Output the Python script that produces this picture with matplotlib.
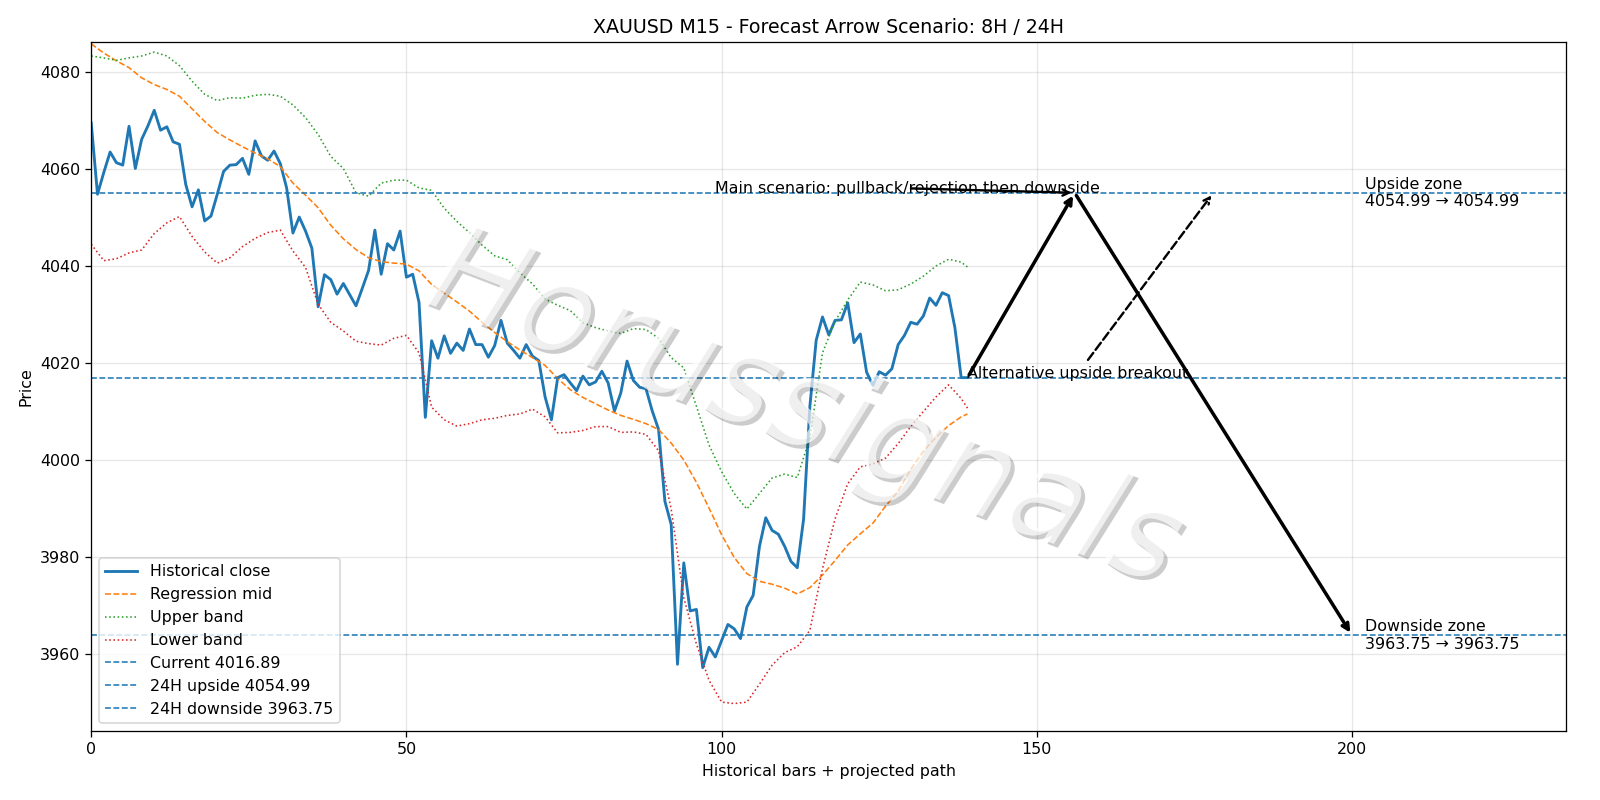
import numpy as np
import matplotlib
matplotlib.use("Agg")
import matplotlib.pyplot as plt
import matplotlib.patheffects as pe

# historical M15 closes, bar 0..139
close = [
    4069.4, 4054.7, 4059.2, 4063.4, 4061.2, 4060.7, 4068.7, 4060.0, 4066.0, 4068.8,
    4072.0, 4067.9, 4068.6, 4065.5, 4065.0, 4056.7, 4052.1, 4055.6, 4049.2, 4050.2,
    4054.7, 4059.4, 4060.7, 4060.8, 4062.1, 4058.8, 4065.7, 4062.6, 4061.7, 4063.6,
    4061.0, 4056.0, 4046.7, 4050.0, 4047.1, 4043.6, 4031.5, 4038.1, 4037.1, 4034.1,
    4036.3, 4034.0, 4031.7, 4035.3, 4039.0, 4047.3, 4038.2, 4044.5, 4043.2, 4047.1,
    4037.6, 4038.2, 4032.4, 4008.7, 4024.5, 4020.9, 4025.5, 4021.9, 4024.0, 4022.5,
    4026.9, 4023.7, 4023.7, 4021.1, 4023.5, 4028.7, 4024.0, 4022.5, 4020.9, 4023.7,
    4021.3, 4020.4, 4012.9, 4008.2, 4016.9, 4017.5, 4015.8, 4014.2, 4017.2, 4015.4,
    4016.0, 4018.2, 4015.8, 4010.0, 4013.7, 4020.3, 4016.3, 4014.9, 4014.6, 4010.0,
    4006.2, 3991.4, 3986.6, 3957.8, 3978.7, 3968.8, 3969.1, 3957.1, 3961.3, 3959.3,
    3962.7, 3966.0, 3965.1, 3963.1, 3969.6, 3972.0, 3982.1, 3988.0, 3985.4, 3984.6,
    3982.1, 3979.0, 3977.7, 3987.7, 4011.0, 4024.6, 4029.4, 4025.7, 4028.7, 4028.8,
    4032.3, 4024.1, 4025.9, 4018.0, 4015.3, 4018.1, 4017.4, 4018.7, 4023.7, 4025.6,
    4028.3, 4027.9, 4029.6, 4033.3, 4031.8, 4034.4, 4033.8, 4027.2, 4016.89, 4016.89,
]

# regression channel, read every second bar (plus the last bar)
band_x = list(range(0, 140, 2)) + [139]
mid = [
    4085.7, 4083.8, 4082.2, 4080.8, 4078.7, 4077.3, 4076.3, 4074.9, 4072.3, 4069.7,
    4067.4, 4065.9, 4064.5, 4063.2, 4062.0, 4060.4, 4057.0, 4054.5, 4051.9, 4048.3,
    4045.5, 4043.3, 4041.6, 4040.8, 4040.5, 4040.3, 4038.9, 4036.1, 4034.3, 4032.5,
    4030.6, 4028.3, 4026.2, 4024.3, 4022.6, 4021.0, 4019.4, 4016.7, 4014.4, 4012.8,
    4011.5, 4010.2, 4009.1, 4008.3, 4007.4, 4006.2, 4003.4, 3999.9, 3995.3, 3990.0,
    3984.5, 3979.8, 3976.5, 3974.9, 3974.3, 3973.5, 3972.3, 3973.6, 3976.2, 3979.2,
    3982.4, 3984.7, 3986.9, 3990.4, 3993.5, 3998.0, 4001.7, 4004.6, 4007.0, 4008.8,
    4009.4,
]
upper = [
    4083.2, 4082.8, 4082.3, 4082.8, 4083.2, 4084.0, 4083.2, 4081.2, 4078.0, 4075.3,
    4074.0, 4074.6, 4074.5, 4075.1, 4075.3, 4074.9, 4073.1, 4070.5, 4067.0, 4062.5,
    4060.0, 4055.0, 4054.3, 4057.0, 4057.6, 4057.6, 4056.0, 4055.5, 4051.8, 4049.1,
    4046.8, 4044.2, 4042.0, 4041.2, 4038.5, 4036.2, 4033.1, 4031.8, 4030.7, 4028.2,
    4027.2, 4026.5, 4026.0, 4027.0, 4026.8, 4025.0, 4021.0, 4018.9, 4011.0, 4003.0,
    3997.5, 3993.0, 3989.8, 3993.0, 3996.2, 3997.0, 3996.3, 4004.5, 4022.0, 4028.5,
    4032.9, 4036.6, 4036.0, 4034.8, 4035.0, 4036.2, 4037.8, 4039.9, 4041.3, 4040.7,
    4039.7,
]
lower = [
    4044.4, 4041.0, 4041.4, 4042.6, 4043.2, 4046.6, 4048.8, 4050.1, 4046.0, 4042.8,
    4040.5, 4041.6, 4043.9, 4045.6, 4046.8, 4047.3, 4043.0, 4039.6, 4032.0, 4028.3,
    4026.5, 4024.4, 4023.9, 4023.6, 4025.0, 4025.6, 4022.0, 4010.8, 4008.2, 4006.9,
    4007.4, 4008.2, 4008.5, 4009.1, 4009.4, 4010.4, 4008.8, 4005.5, 4005.6, 4006.0,
    4006.8, 4006.8, 4005.6, 4005.7, 4005.2, 4001.8, 3989.8, 3971.5, 3962.0, 3954.5,
    3950.0, 3949.7, 3950.0, 3953.7, 3957.6, 3960.2, 3961.4, 3964.8, 3977.5, 3987.8,
    3995.0, 3998.5, 3999.1, 4000.3, 4003.3, 4006.8, 4009.9, 4012.9, 4015.4, 4012.6,
    4010.6,
]

current = 4016.89
up_24h = 4054.99
down_24h = 3963.75
start_bar = 139
peak_bar = 156
alt_bar = 178
target_bar = 200

DPI = 1600 / 14
fig, ax = plt.subplots(figsize=(14, 7), dpi=DPI)

x = np.arange(len(close))
ax.plot(x, close, lw=1.8, color="C0", label="Historical close")
ax.plot(band_x, mid, ls="--", lw=1, color="C1", label="Regression mid")
ax.plot(band_x, upper, ls=":", lw=1, color="C2", label="Upper band")
ax.plot(band_x, lower, ls=":", lw=1, color="C3", label="Lower band")

ax.axhline(current, ls="--", lw=1, color="C0", label=f"Current {current:.2f}")
ax.axhline(up_24h, ls="--", lw=1, color="C0", label=f"24H upside {up_24h:.2f}")
ax.axhline(down_24h, ls="--", lw=1, color="C0", label=f"24H downside {down_24h:.2f}")

# main path: up into the zone, then rejection down
ax.annotate("", xy=(peak_bar, up_24h), xytext=(start_bar, current),
            arrowprops=dict(arrowstyle="->", lw=2.2, color="black"))
ax.annotate("", xy=(target_bar, down_24h), xytext=(peak_bar, up_24h),
            arrowprops=dict(arrowstyle="->", lw=2.2, color="black"))
ax.annotate("Main scenario: pullback/rejection then downside",
            xy=(peak_bar, up_24h), xytext=(99, up_24h),
            arrowprops=dict(arrowstyle="->", lw=1.5, color="black"))
ax.annotate("Alternative upside breakout",
            xy=(alt_bar, up_24h), xytext=(start_bar, current),
            arrowprops=dict(arrowstyle="->", lw=1.5, ls="--", color="black"))

ax.text(202, up_24h, f"Upside zone\n{up_24h:.2f} \u2192 {up_24h:.2f}", va="center")
ax.text(202, down_24h, f"Downside zone\n{down_24h:.2f} \u2192 {down_24h:.2f}", va="center")

# watermark: white glyphs with a soft grey drop shadow
ax.text(0.483, 0.465, "Horussignals", transform=ax.transAxes, fontsize=78,
        rotation=-21, ha="center", va="center", color="white", alpha=0.45,
        style="italic", zorder=6,
        path_effects=[pe.withSimplePatchShadow(offset=(2.5, -2.5), shadow_rgbFace="black", alpha=0.2),
                      pe.Normal()])

ax.set_xlim(0, 234)
ax.set_ylim(3944, 4086)
ax.grid(True, alpha=0.3)
ax.set_title("XAUUSD M15 - Forecast Arrow Scenario: 8H / 24H")
ax.set_xlabel("Historical bars + projected path")
ax.set_ylabel("Price")
ax.legend(loc="lower left")

fig.subplots_adjust(left=0.057, right=0.979, top=0.947, bottom=0.086)
plt.savefig("out.png", dpi=DPI)
